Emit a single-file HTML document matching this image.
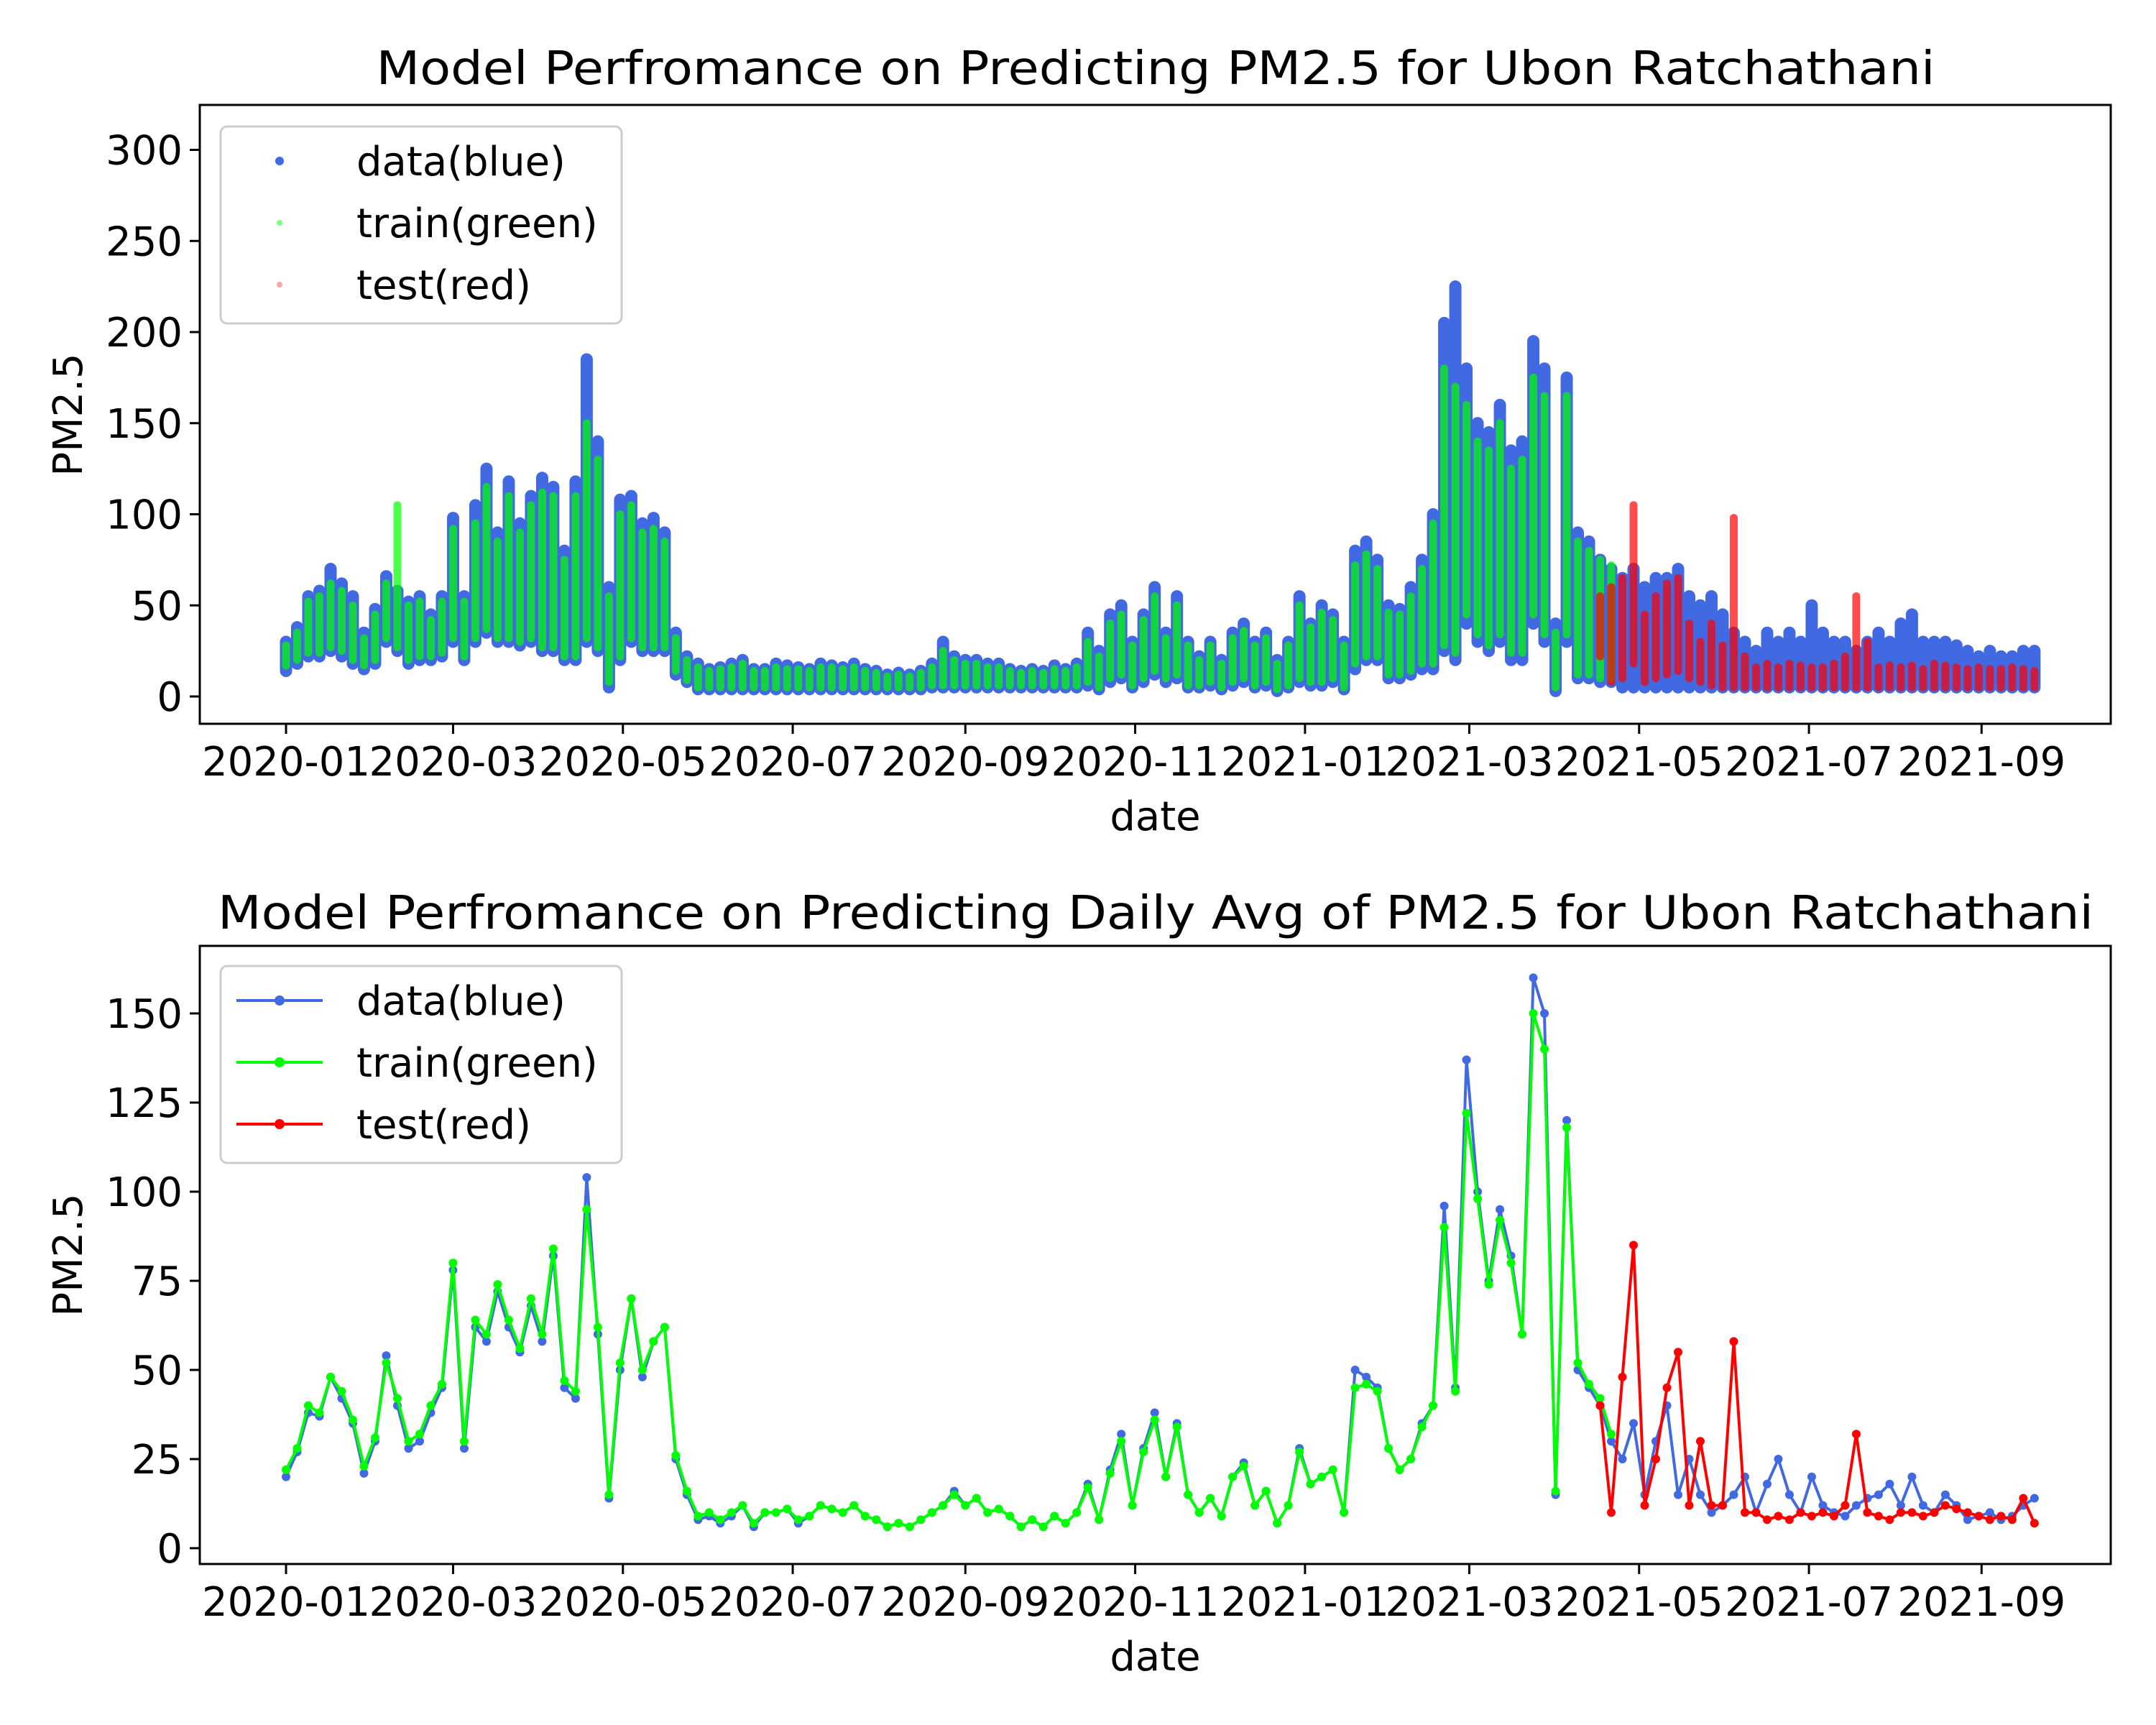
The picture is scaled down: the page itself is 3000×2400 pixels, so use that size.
<!DOCTYPE html>
<html><head><meta charset="utf-8">
<style>
html,body{margin:0;padding:0;background:#fff;}
svg{display:block;font-family:"DejaVu Sans","Liberation Sans",sans-serif;}
</style></head>
<body>
<svg id="fig" xmlns="http://www.w3.org/2000/svg" width="3000" height="2400" viewBox="0 0 3000 2400">
<rect width="3000" height="2400" fill="#fff"/>
<text x="1608" y="117" font-size="64" text-anchor="middle" textLength="2169" lengthAdjust="spacingAndGlyphs">Model Perfromance on Predicting PM2.5 for Ubon Ratchathani</text>
<text x="1608" y="1292" font-size="64" text-anchor="middle" textLength="2610" lengthAdjust="spacingAndGlyphs">Model Perfromance on Predicting Daily Avg of PM2.5 for Ubon Ratchathani</text>
<g id="top"></g>
<g id="bot"></g>
</svg>
<script>
// ---- shared data ----
const tickLabels = ["2020-01","2020-03","2020-05","2020-07","2020-09","2020-11","2021-01","2021-03","2021-05","2021-07","2021-09"];
const tickDays = [0,60,121,182,244,305,366,425,486,547,609];
const stepDays = 4;
const testStart = 118;
// ---- top (hourly scatter) data: per 4-day window low/high ----
const blueHi = [30,38,55,58,70,62,55,35,48,66, 58,52,55,45,55,98,55,105,125,90, 118,95,110,120,115,80,118,185,140,60,
 108,110,95,98,90,35,22,18,15,16, 18,20,15,15,18,17,16,15,18,17, 16,18,15,14,12,13,12,14,18,30, 22,20,20,18,18,15,14,15,14,17,
 15,18,35,25,45,50,30,45,60,35, 55,30,22,30,20,35,40,30,35,20, 30,55,40,50,45,30,80,85,75,50, 48,60,75,100,205,225,180,150,145,160,
 135,140,195,180,40,175,90,85,75,70, 65,70,60,65,65,70,55,50,55,45, 35,30,25,35,30,35,30,50,35,30, 30,25,30,35,30,40,45,30,30,30,
 28,25,22,25,22,22,25,25];
const blueLo = [14,18,22,22,25,22,18,15,18,30, 25,18,20,20,22,30,20,30,35,30, 30,28,30,25,25,20,20,30,25,5,
 20,30,25,25,25,12,8,4,4,4, 4,4,4,4,4,4,4,4,4,4, 4,4,4,4,4,4,4,4,5,5, 5,5,5,5,5,5,5,5,5,5,
 5,5,6,4,8,10,5,8,12,8, 10,5,5,6,4,6,8,5,6,3, 5,8,6,6,8,4,15,20,20,10, 10,12,15,15,25,20,40,30,25,30,
 20,20,40,30,3,30,10,10,8,8, 5,5,5,5,5,5,5,5,5,5, 5,5,5,5,5,5,5,5,5,5, 5,5,5,5,5,5,5,5,5,5, 5,5,5,5,5,5,5,5];
const greenHi = [28,35,52,55,62,58,50,32,45,62, 105,50,52,42,52,92,52,95,115,85, 110,90,105,112,110,75,110,150,130,55,
 100,105,90,92,85,32,20,16,14,15, 16,18,14,14,16,15,15,14,16,16, 15,16,14,13,11,12,11,13,16,25, 20,18,18,16,16,14,13,14,13,15,
 14,16,30,22,40,45,28,42,55,32, 50,28,20,28,18,32,36,28,32,18, 28,50,38,46,42,28,72,78,70,46, 45,55,70,95,180,170,160,140,135,150,
 125,130,175,165,35,165,85,80,75,72];
const greenLo = [17,20,24,24,27,25,20,17,20,32, 27,20,22,22,24,32,22,32,37,32, 32,30,32,27,27,22,22,32,27,8,
 22,32,27,27,27,14,9,5,5,5, 5,5,5,5,5,5,5,5,5,5, 5,5,5,5,5,5,5,5,6,6, 6,6,6,6,6,6,6,6,6,6,
 6,6,8,5,10,12,6,10,14,10, 12,6,6,8,5,8,10,6,8,4, 6,10,8,8,10,5,18,22,22,12, 12,14,18,18,28,24,45,34,28,34,
 24,24,45,34,5,34,12,12,10,10];
const redHi = [55,60,65,105,45,55,62,65,40,30, 40,28,98,22,16,18,16,18,17,16, 16,18,22,55,30,16,17,16,17,15, 18,17,16,15,16,15,15,16,15,14];
const redLo = [22,8,10,18,8,10,12,14,10,8, 6,5,5,5,5,5,5,5,5,5, 5,5,5,5,5,5,5,5,5,5, 5,5,5,5,5,5,5,5,5,5];
// ---- bottom (daily average) data ----
const dailyBlue = [20,27,38,37,48,42,35,21,30,54, 40,28,30,38,45,78,28,62,58,72, 62,55,68,58,82,45,42,104,60,14,
 50,70,48,58,62,25,15,8,9,7, 9,12,6,10,10,11,7,9,12,11, 10,12,9,8,6,7,6,8,10,12, 16,12,14,10,11,9,6,8,6,9,
 7,10,18,8,22,32,12,28,38,20, 35,15,10,14,9,20,24,12,16,7, 12,28,18,20,22,10,50,48,45,28, 22,25,35,40,96,45,137,100,75,95,
 82,60,160,150,15,120,50,45,40,30, 25,35,15,30,40,15,25,15,10,12, 15,20,10,18,25,15,10,20,12,10,
 9,12,14,15,18,12,20,12,10,15, 12,8,9,10,8,9,12,14];
const dailyTrain = [22,28,40,38,48,44,36,23,31,52, 42,30,32,40,46,80,30,64,60,74, 64,56,70,60,84,47,44,95,62,15,
 52,70,50,58,62,26,16,9,10,8, 10,12,7,10,10,11,8,9,12,11, 10,12,9,8,6,7,6,8,10,12, 15,12,14,10,11,9,6,8,6,9,
 7,10,17,8,21,30,12,27,36,20, 34,15,10,14,9,20,23,12,16,7, 12,27,18,20,22,10,45,46,44,28, 22,25,34,40,90,44,122,98,74,92,
 80,60,150,140,16,118,52,46,42,32];
const dailyTest = [40,10,48,85,12,25,45,55,12,30, 12,12,58,10,10,8,9,8,10,9, 10,9,12,32,10,9,8,10,10,9, 10,12,11,10,9,8,9,8,14,7];

const NS = "http://www.w3.org/2000/svg";
function mk(tag, attrs, parent){const e=document.createElementNS(NS,tag);for(const k in attrs)e.setAttribute(k,attrs[k]);parent.appendChild(e);return e;}
const L=278,R=2937;
function X(day){return 398+day*3.874;}

function axes(g, top, bottom, Y, yticks, labelY, prefix){
  yticks.forEach(v=>{
    const t=mk('line',{x1:L-14,x2:L,y1:Y(v),y2:Y(v),stroke:'#000','stroke-width':3},g);
    
    
    const tx=mk('text',{x:L-24,y:Y(v)+20,'font-size':56,'text-anchor':'end'},g);
    tx.textContent=String(v);
    
    
  });
  tickDays.forEach((d,i)=>{
    const t=mk('line',{x1:X(d),x2:X(d),y1:bottom,y2:bottom+14,stroke:'#000','stroke-width':3},g);
    
    
    const tx=mk('text',{x:X(d),y:bottom+72,'font-size':56,'text-anchor':'middle'},g);
    tx.textContent=tickLabels[i];
    
    
  });
  const fr=mk('rect',{x:L,y:top,width:R-L,height:bottom-top,fill:'none',stroke:'#000','stroke-width':3},g);
  
  
  const xl=mk('text',{x:(L+R)/2,y:bottom+148,'font-size':56,'text-anchor':'middle'},g);
  xl.textContent='date';
  
  
  const yl=mk('text',{x:0,y:0,'font-size':56,'text-anchor':'middle',transform:'translate(114,'+labelY+') rotate(-90)'},g);
  yl.textContent='PM2.5';
  
  
}

function legend(g, top, type, prefix){
  const box=mk('rect',{x:307,y:top,width:558,height:274,rx:9,fill:'#fff','fill-opacity':0.8,stroke:'#ccc','stroke-width':3},g);
  
  
  const items=[['data(blue)','#4169e1',1],['train(green)','#00ff00',0.5],['test(red)','#ff0000',0.35]];
  items.forEach((it,k)=>{
    const y=top+48+k*86;
    if(type==='line'){
      const ln=mk('line',{x1:329,x2:449,y1:y,y2:y,stroke:it[1],'stroke-width':4},g);
      
      
      const c=mk('circle',{cx:389,cy:y,r:7,fill:it[1]},g);
      
      
    } else {
      const c=mk('circle',{cx:389,cy:y,r:k===0?6:4,fill:it[1],'fill-opacity':it[2]},g);
      
      
    }
    const t=mk('text',{x:496,y:y+20,'font-size':56},g);
    t.textContent=it[0];
    
    
  });
}

// ---- top chart ----
(function(){
  const g=document.getElementById('top');
  const Y=v=>969-v*2.535;
  function band(lo,hi,offset,color,w,op,name){
    for(let i=0;i<hi.length;i++){
      const x=X((i+offset)*stepDays);
      const ln=mk('line',{x1:x,x2:x,y1:Y(lo[i]),y2:Y(hi[i]),stroke:color,'stroke-width':w,'stroke-linecap':'round','stroke-opacity':op},g);
      
      
    }
  }
  band(blueLo,blueHi,0,'#4169e1',17,1,'data-scatter-band');
  band(greenLo,greenHi,0,'#00ff00',11,0.7,'train-scatter-band');
  band(redLo,redHi,testStart,'#ff0000',11,0.7,'test-scatter-band');
  axes(g,146,1007,Y,[0,50,100,150,200,250,300],577,'top');
  legend(g,176,'scatter','top');
})();

// ---- bottom chart ----
(function(){
  const g=document.getElementById('bot');
  const Y=v=>2154-v*4.96;
  function series(vals,offset,color,name){
    const pts=vals.map((v,i)=>X((i+offset)*stepDays).toFixed(1)+','+Y(v).toFixed(1)).join(' ');
    const pl=mk('polyline',{points:pts,fill:'none',stroke:color,'stroke-width':4,'stroke-linejoin':'round'},g);
    
    
    vals.forEach((v,i)=>{
      const c=mk('circle',{cx:X((i+offset)*stepDays),cy:Y(v),r:6,fill:color},g);
      
      
    });
  }
  series(dailyBlue,0,'#4169e1','data');
  series(dailyTrain,0,'#00ff00','train');
  series(dailyTest,testStart,'#ff0000','test');
  axes(g,1316,2176,Y,[0,25,50,75,100,125,150],1746,'bottom');
  legend(g,1344,'line','bottom');
})();
</script>
</body></html>
